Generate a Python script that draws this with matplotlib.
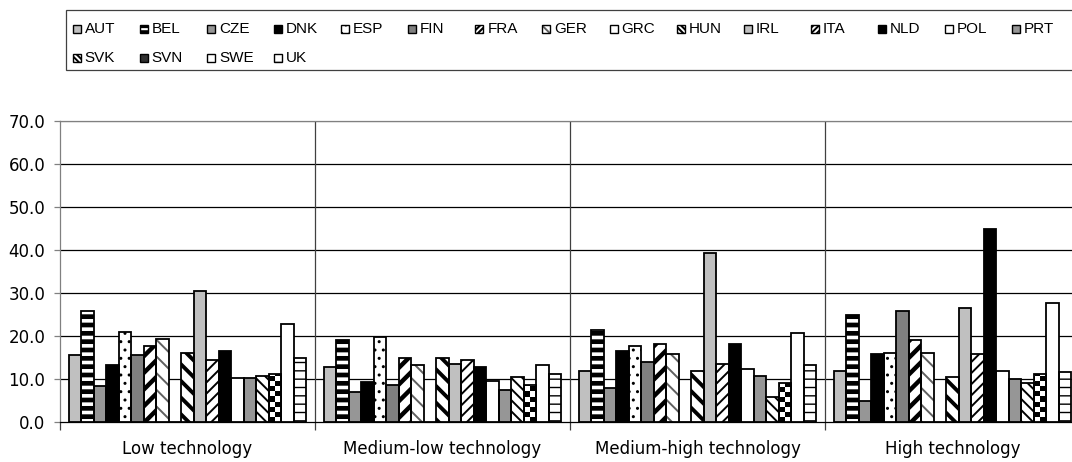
import numpy as np
import matplotlib
matplotlib.use('Agg')
import matplotlib.pyplot as plt
from matplotlib.patches import Rectangle

plt.rcParams['font.family'] = ['DejaVu Sans']

# --- Data ---
groups = ['Low technology', 'Medium-low technology', 'Medium-high technology', 'High technology']
countries = ['AUT', 'BEL', 'CZE', 'DNK', 'ESP', 'FIN', 'FRA', 'GER', 'GRC', 'HUN',
             'IRL', 'ITA', 'NLD', 'POL', 'PRT', 'SVK', 'SVN', 'SWE', 'UK']

low_tech = [15.6, 25.7, 8.3, 13.3, 21.0, 15.6, 17.7, 19.4, 0.0, 16.1,
            30.5, 14.4, 16.6, 10.3, 10.3, 10.8, 11.2, 22.7, 14.9]
medlow_tech = [12.9, 19.1, 7.0, 9.2, 19.7, 8.7, 14.9, 13.2, 0.0, 14.9,
               13.6, 14.4, 12.9, 9.5, 7.4, 10.4, 8.7, 13.2, 11.2]
medhigh_tech = [11.9, 21.5, 7.8, 16.6, 17.7, 14.0, 18.2, 15.7, 0.0, 11.9,
                39.2, 13.6, 18.2, 12.4, 10.7, 5.8, 9.0, 20.6, 13.2]
high_tech = [11.9, 24.8, 4.9, 15.8, 16.1, 25.7, 19.0, 16.1, 0.0, 10.4,
             26.4, 15.7, 45.0, 11.9, 9.9, 9.1, 11.2, 27.7, 11.6]

yticks = [0, 10, 20, 30, 40, 50, 60, 70]

# --- Styles (face colour, hatch, hatch colour, hatch width, legend hatch) ---
styles = {
    'AUT': ('#c0c0c0', None, None, 0, None),
    'BEL': ('black', '--', 'white', 2.6, '--'),
    'CZE': ('#969696', None, None, 0, None),
    'DNK': ('black', None, None, 0, None),
    'ESP': ('white', '..', 'black', 1.0, '..'),
    'FIN': ('#808080', None, None, 0, None),
    'FRA': ('white', '//', 'black', 3.2, '//////'),
    'GER': ('white', '\\\\', '#606060', 1.4, '\\\\\\\\'),
    'GRC': ('white', None, None, 0, None),
    'HUN': ('white', '\\\\', 'black', 2.8, '\\\\\\\\\\\\'),
    'IRL': ('#c0c0c0', None, None, 0, None),
    'ITA': ('white', '///', 'black', 1.4, '//////'),
    'NLD': ('black', None, None, 0, None),
    'POL': ('white', None, None, 0, None),
    'PRT': ('#969696', None, None, 0, None),
    'SVK': ('white', '\\\\\\', 'black', 1.4, '\\\\\\\\\\\\'),
    'SVN': ('white', 'checker', None, 0, None),
    'SWE': ('white', None, None, 0, None),
    'UK': ('white', '--', 'black', 1.0, '--'),
}

data = np.array([low_tech, medlow_tech, medhigh_tech, high_tech])

W, H = 1072, 462
fig = plt.figure(figsize=(W / 100, H / 100), dpi=100)
ax = fig.add_axes([60 / W, 40 / H, 1020 / W, 301 / H])

x = np.arange(len(groups))
n = len(countries)
w = 12.5 / 255
xlim = (-0.5, len(groups) - 0.5)

# checkerboard image used for SVN (about 5 px cells)
checker = (np.add.outer(np.arange(60), np.arange(204)) % 2).astype(float)


def set_hlw(p, hlw):
    if hasattr(p, 'set_hatch_linewidth'):
        p.set_hatch_linewidth(hlw)


for i, c in enumerate(countries):
    face, hatch, hc, hlw, _ = styles[c]
    pos = x + (i - (n - 1) / 2) * w
    vals = data[:, i]
    if hatch == 'checker':
        base = ax.bar(pos, vals, w, color='white', linewidth=0, zorder=3)
        for p in base.patches:
            im = ax.imshow(checker, cmap='gray', extent=(xlim[0], xlim[1], 0, 70),
                           aspect='auto', interpolation='nearest', zorder=3.5, origin='lower')
            im.set_clip_path(p)
    elif hatch:
        with plt.rc_context({'hatch.linewidth': hlw}):
            b = ax.bar(pos, vals, w, color=face, edgecolor=hc, hatch=hatch, linewidth=0, zorder=3)
        for p in b.patches:
            set_hlw(p, hlw)
    else:
        ax.bar(pos, vals, w, color=face, linewidth=0, zorder=3)
    # black outline on top
    ax.bar(pos, vals, w, fill=False, edgecolor='black', linewidth=1.3, zorder=4)

ax.set_xlim(*xlim)
ax.set_ylim(0, 70)

# gridlines
for yv in yticks[1:]:
    ax.axhline(yv, color='black' if yv < 70 else '#808080', linewidth=0.9, zorder=1)
for b in x[:-1] + 0.5:
    ax.axvline(b, color='#404040', linewidth=0.9, zorder=1)

ax.set_yticks(yticks)
ax.set_yticklabels([f'{v:.1f}' for v in yticks], fontsize=12)
ax.tick_params(axis='y', direction='out', length=4, width=0.9, color='#808080', pad=6.5)
ax.set_xticks(x)
ax.set_xticklabels(groups, fontsize=12)
ax.set_xticks(np.arange(-0.5, len(groups), 1.0), minor=True)
ax.tick_params(axis='x', which='major', length=0, pad=13)
ax.tick_params(axis='x', which='minor', direction='out', length=6, width=0.9, color='#404040')

ax.spines['right'].set_visible(False)
ax.spines['top'].set_color('#808080')
ax.spines['left'].set_color('#808080')
ax.spines['bottom'].set_color('black')
for s in ax.spines.values():
    s.set_linewidth(0.9)

# --- legend, Excel style: 15 equal columns per row ---
fig.add_artist(Rectangle((66 / W, 1 - 70 / H), 1020 / W, 60 / H, transform=fig.transFigure,
                         facecolor='white', edgecolor='#404040', linewidth=0.9))
ncol = 15
sq = 8
for k, c in enumerate(countries):
    row, col = divmod(k, ncol)
    x0 = 72.7 + col * 67.1
    yc = 29 + row * 29
    face, hatch, hc, hlw, lhatch = styles[c]
    rect_kw = dict(transform=fig.transFigure)
    xy = (x0 / W, 1 - (yc + sq / 2) / H)
    wh = (sq / W, sq / H)
    if hatch == 'checker':
        fig.add_artist(Rectangle(xy, *wh, facecolor='#303030', linewidth=0, **rect_kw))
    elif hatch:
        with plt.rc_context({'hatch.linewidth': min(hlw, 1.5)}):
            r = Rectangle(xy, *wh, facecolor=face, edgecolor=hc, hatch=lhatch, linewidth=0, **rect_kw)
        set_hlw(r, min(hlw, 1.5))
        fig.add_artist(r)
    else:
        fig.add_artist(Rectangle(xy, *wh, facecolor=face, linewidth=0, **rect_kw))
    fig.add_artist(Rectangle(xy, *wh, fill=False, edgecolor='black', linewidth=1.0, **rect_kw))
    fig.text((x0 + sq + 4) / W, 1 - yc / H, c, fontsize=11, va='center', ha='left',
             family=['Liberation Sans', 'DejaVu Sans'])

plt.savefig('out.png', dpi=100)
